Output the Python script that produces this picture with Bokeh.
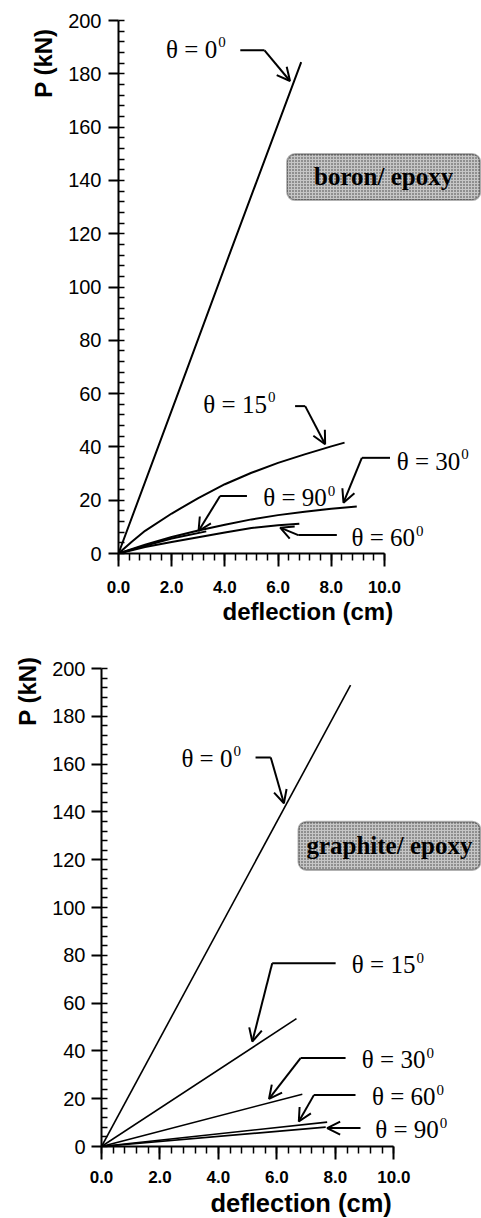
from bokeh.plotting import figure
from bokeh.models import (LinearAxis, FixedTicker, PrintfTickFormatter, Range1d,
                          Arrow, OpenHead, BoxAnnotation, Label, Title)
from bokeh.core.properties import value
from bokeh.embed import file_html
from bokeh.resources import INLINE

# ---------------- data ----------------
# boron / epoxy
b0_x = [0, 2.57, 4.2, 6.87]
b0_y = [0, 69.0, 113.0, 184.4]
b15_x = [0, 0.5, 1, 2, 3, 4, 5, 6, 7, 8, 8.5]
b15_y = [0, 4.4, 8.5, 15.0, 20.8, 26.0, 30.3, 34.0, 37.2, 40.2, 41.6]
b30_x = [0, 1, 2, 3, 4, 5, 6, 7, 8, 8.96]
b30_y = [0, 3.3, 6.2, 8.6, 10.8, 12.8, 14.4, 15.7, 16.8, 17.6]
b90_x = [0, 1, 2, 3.3]
b90_y = [0, 2.9, 5.6, 8.3]
b60_x = [0, 1, 2, 3, 4, 5, 6, 6.8]
b60_y = [0, 2.4, 4.3, 6.1, 7.9, 9.6, 10.6, 11.2]

# graphite / epoxy
g0_x = [0, 8.52]
g0_y = [0, 193.0]
g15_x = [0, 6.67]
g15_y = [0, 53.5]
g30_x = [0, 6.87]
g30_y = [0, 21.9]
g60_x = [0, 7.72]
g60_y = [0, 10.2]
g90_x = [0, 7.67]
g90_y = [0, 8.1]

x_major = [0, 2, 4, 6, 8, 10]
x_minor = [round(i * 0.4, 1) for i in range(26)]
y_major = list(range(0, 201, 20))
y_minor = list(range(0, 201, 4))

SANS = "Liberation Sans"
SERIF = "Liberation Serif"


def make_fig(xmax, frame_w, frame_h, left, top, bottom, xstand, ystand, xoff, xtstand, yoff, xtsize):
    p = figure(frame_width=frame_w, frame_height=frame_h,
               x_range=Range1d(0, xmax), y_range=Range1d(0, 200),
               output_backend="svg", toolbar_location=None,
               min_border_left=left, min_border_right=0,
               min_border_top=top, min_border_bottom=bottom,
               x_axis_type=None, y_axis_type=None)
    p.outline_line_color = None
    p.background_fill_color = "white"
    p.border_fill_color = "white"

    xa = LinearAxis(bounds=(0, 10), ticker=FixedTicker(ticks=x_major, minor_ticks=x_minor),
                    formatter=PrintfTickFormatter(format="%.1f"))
    xa.axis_line_width = 2
    xa.major_tick_line_width = 2
    xa.minor_tick_line_width = 1.5
    xa.major_tick_out = 13
    xa.major_tick_in = 0
    xa.minor_tick_out = 7
    xa.minor_tick_in = 0
    xa.major_label_standoff = xstand
    xa.major_label_text_font = SANS
    xa.major_label_text_font_style = "bold"
    xa.major_label_text_font_size = "17px"
    xa.major_label_text_color = "black"
    p.add_layout(xa, "below")

    ya = LinearAxis(bounds=(0, 200), ticker=FixedTicker(ticks=y_major, minor_ticks=y_minor))
    ya.axis_line_width = 2
    ya.major_tick_line_width = 2
    ya.minor_tick_line_width = 1.5
    ya.major_tick_out = 10
    ya.major_tick_in = 0
    ya.minor_tick_out = 0
    ya.minor_tick_in = 6
    ya.major_label_standoff = ystand
    ya.major_label_text_font = SANS
    ya.major_label_text_font_size = "20px"
    ya.major_label_text_color = "black"
    p.add_layout(ya, "left")

    # axis titles as side titles so they can sit off-centre like the reference
    p.add_layout(Title(text="deflection (cm)", align="left", offset=xoff, standoff=xtstand,
                       text_font=SANS, text_font_style="bold", text_font_size=xtsize,
                       text_color="black"), "below")
    p.add_layout(Title(text="P (kN)", align="right", offset=yoff, standoff=18,
                       text_font=SANS, text_font_style="bold", text_font_size="24px",
                       text_color="black"), "left")
    return p


def add_notes(p, notes):
    for n in notes:
        p.text(x=[n["ax"]], y=[n["ay"]], text=[n["main"]], text_align="right",
               text_baseline="middle", text_font=value(SERIF), text_font_size="25px",
               text_color="black")
        p.text(x=[n["ax"]], y=[n["ay"]], text=["0"], text_align="left", x_offset=1, y_offset=-7,
               text_baseline="middle", text_font=value(SERIF), text_font_size="15px",
               text_color="black")
        pts = n["lead"]
        if len(pts) > 1:
            p.line([q[0] for q in pts], [q[1] for q in pts], line_color="black", line_width=2)
        sx, sy = pts[-1]
        tx, ty = n["tip"]
        p.add_layout(Arrow(end=OpenHead(size=13, line_width=2, line_color="black"),
                           x_start=sx, y_start=sy, x_end=tx, y_end=ty,
                           line_width=2, line_color="black"))


def add_box(p, left, right, bottom, top, cx, cy, text):
    p.add_layout(BoxAnnotation(left=left, right=right, bottom=bottom, top=top,
                               fill_color="#c6c6c6", fill_alpha=1.0,
                               hatch_pattern="dot", hatch_color="#3a3a3a", hatch_scale=3,
                               hatch_weight=1, hatch_alpha=1.0,
                               line_color="black", line_width=2, border_radius=8,
                               level="overlay"))
    p.add_layout(Label(x=cx, y=cy, text=text, text_align="center", text_baseline="middle",
                       text_font=SERIF, text_font_style="bold", text_font_size="25px",
                       text_color="black", level="overlay"))


# ---------------- top: boron/epoxy ----------------
p1 = make_fig(13.65, 363, 533, 118, 20, 85, 14, 7, 104, 0, 8, "24px")
for xs, ys in [(b0_x, b0_y), (b15_x, b15_y), (b30_x, b30_y), (b90_x, b90_y), (b60_x, b60_y)]:
    p1.line(xs, ys, line_color="black", line_width=2)

top_notes = [
    dict(main="θ = 0", ax=3.71, ay=189.3, lead=[(4.58, 188.8), (5.49, 188.8)], tip=(6.45, 177.3)),
    dict(main="θ = 15", ax=5.58, ay=56.0, lead=[(6.64, 55.3), (7.02, 55.3)], tip=(7.77, 41.0)),
    dict(main="θ = 30", ax=12.85, ay=34.7, lead=[(10.21, 35.9), (9.15, 35.9)], tip=(8.46, 19.06)),
    dict(main="θ = 90", ax=7.83, ay=20.9, lead=[(4.83, 21.6), (3.82, 21.6)], tip=(3.01, 8.44)),
    dict(main="θ = 60", ax=11.15, ay=5.9, lead=[(8.21, 6.9), (6.76, 6.9)], tip=(6.08, 9.7)),
]
add_notes(p1, top_notes)
add_box(p1, 6.34, 13.6, 132.6, 149.9, 9.97, 141.3, "boron/ epoxy")

# ---------------- bottom: graphite/epoxy ----------------
p2 = make_fig(13.0, 380, 478, 101, 30, 72, 11, 6, 109, 2, -12, "25.5px")
for xs, ys in [(g0_x, g0_y), (g15_x, g15_y), (g30_x, g30_y), (g60_x, g60_y), (g90_x, g90_y)]:
    p2.line(xs, ys, line_color="black", line_width=1.6)

bottom_notes = [
    dict(main="θ = 0", ax=4.48, ay=162.4, lead=[(5.27, 162.8), (5.79, 162.8)], tip=(6.24, 143.6)),
    dict(main="θ = 15", ax=10.74, ay=76.0, lead=[(8.01, 76.7), (5.84, 76.7)], tip=(5.16, 43.9)),
    dict(main="θ = 30", ax=11.08, ay=36.2, lead=[(8.35, 37.0), (6.81, 37.0)], tip=(5.73, 19.9)),
    dict(main="θ = 60", ax=11.43, ay=20.9, lead=[(8.69, 21.6), (7.27, 21.6)], tip=(6.75, 10.45)),
    dict(main="θ = 90", ax=11.54, ay=7.0, lead=[(8.86, 7.7)], tip=(7.72, 7.7)),
]
add_notes(p2, bottom_notes)
add_box(p2, 6.74, 12.96, 115.7, 135.9, 9.85, 125.8, "graphite/ epoxy")

open("out.html", "w").write(file_html([p1, p2], INLINE))
